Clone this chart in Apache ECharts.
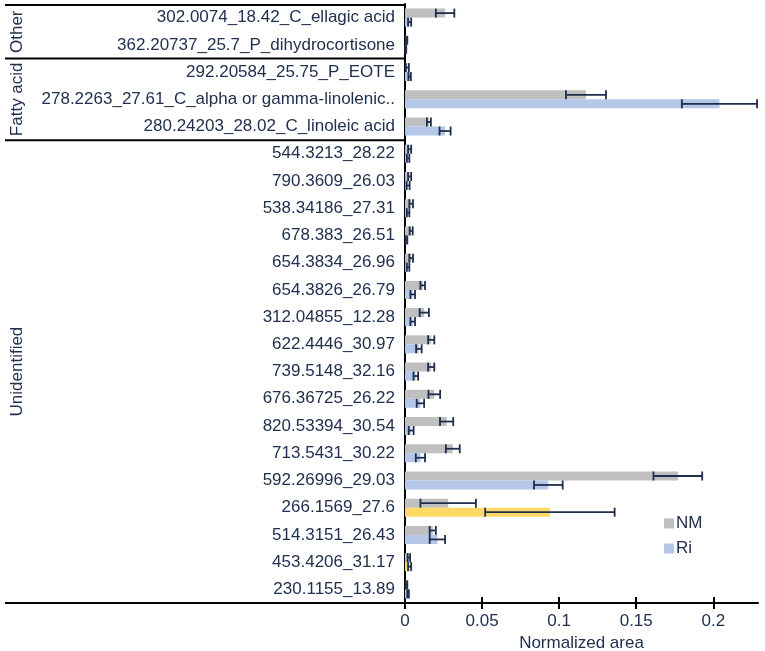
<!DOCTYPE html>
<html>
<head>
<meta charset="utf-8">
<script src="https://cdn.jsdelivr.net/npm/echarts@6/dist/echarts.min.js"></script>
<style>
  html, body { margin: 0; padding: 0; background: #fff; }
  #chart { width: 765px; height: 651px; }
</style>
</head>
<body>
<div id="chart"></div>
<script>
// compounds, top to bottom
const categories = [
    '302.0074_18.42_C_ellagic acid',
    '362.20737_25.7_P_dihydrocortisone',
    '292.20584_25.75_P_EOTE',
    '278.2263_27.61_C_alpha or gamma-linolenic acid',
    '280.24203_28.02_C_linoleic acid',
    '544.3213_28.22',
    '790.3609_26.03',
    '538.34186_27.31',
    '678.383_26.51',
    '654.3834_26.96',
    '654.3826_26.79',
    '312.04855_12.28',
    '622.4446_30.97',
    '739.5148_32.16',
    '676.36725_26.22',
    '820.53394_30.54',
    '713.5431_30.22',
    '592.26996_29.03',
    '266.1569_27.6',
    '514.3151_26.43',
    '453.4206_31.17',
    '230.1155_13.89'
];

const nmMean = [0.026, 0.001, 0.0015, 0.1174, 0.0155, 0.003, 0.003, 0.004, 0.004, 0.004, 0.0115,
    0.0125, 0.017, 0.017, 0.019, 0.027, 0.031, 0.177, 0.028, 0.018, 0.0025, 0.001];
const nmErr = [0.006, 0.0005, 0.001, 0.013, 0.0013, 0.001, 0.001, 0.0012, 0.001, 0.0012, 0.0015,
    0.003, 0.002, 0.002, 0.0038, 0.0043, 0.0045, 0.0158, 0.018, 0.002, 0.0008, 0.0005];

const riMean = [0.003, 0.0005, 0.003, 0.204, 0.026, 0.002, 0.002, 0.002, 0.001, 0.002, 0.005,
    0.005, 0.009, 0.007, 0.010, 0.004, 0.010, 0.093, 0.094, 0.021, 0.003, 0.002];
const riErr = [0.001, 0.0003, 0.0008, 0.0244, 0.0036, 0.0008, 0.001, 0.0008, 0.0005, 0.0008, 0.0015,
    0.0015, 0.0018, 0.0015, 0.0024, 0.0016, 0.003, 0.0093, 0.042, 0.005, 0.001, 0.0005];

// Ri bars drawn in yellow
const riHighlight = ['266.1569_27.6', '453.4206_31.17'];

const groupNames = ['Other', 'Fatty acid', 'Unidentified'];
const groupSizes = [2, 3, 17];

const xTicks = [0, 0.05, 0.1, 0.15, 0.2];

const navy = '#1f2d4d';
const textColor = '#22304f';
const barW = 9;

const chart = echarts.init(document.getElementById('chart'));

function errRender(shift) {
    return function (params, api) {
        const v = api.value(0), c = api.value(1), e = api.value(2);
        const lo = api.coord([v - e, c]);
        const hi = api.coord([v + e, c]);
        const y = lo[1] + shift;
        const h = barW / 2;
        const st = { stroke: navy, lineWidth: 1.8 };
        return {
            type: 'group',
            children: [
                { type: 'line', shape: { x1: lo[0], y1: y, x2: hi[0], y2: y }, style: st },
                { type: 'line', shape: { x1: lo[0], y1: y - h, x2: lo[0], y2: y + h }, style: st },
                { type: 'line', shape: { x1: hi[0], y1: y - h, x2: hi[0], y2: y + h }, style: st }
            ]
        };
    };
}

const riData = riMean.map((v, i) =>
    riHighlight.includes(categories[i]) ? { value: v, itemStyle: { color: '#ffd966' } } : v);

const xAxisBase = {
    type: 'value',
    min: 0,
    max: 0.229,
    splitLine: { show: false }
};

chart.setOption({
    animation: false,
    textStyle: { fontFamily: 'Liberation Sans, Arial, sans-serif' },
    grid: { left: 405, right: 7, top: 4, bottom: 48, containLabel: false, outerBoundsMode: 'none' },
    legend: {
        orient: 'vertical',
        left: 659,
        top: 510,
        itemWidth: 10,
        itemHeight: 10,
        itemGap: 8,
        icon: 'rect',
        data: ['NM', 'Ri'],
        textStyle: { fontSize: 17, color: textColor, padding: [0, 0, 0, -3] }
    },
    xAxis: [
        Object.assign({}, xAxisBase, {
            name: 'Normalized area',
            nameLocation: 'middle',
            nameGap: 27,
            nameTextStyle: { fontSize: 17, color: textColor },
            axisLine: { show: true, lineStyle: { color: '#000', width: 2 } },
            axisTick: { show: true, length: 6, customValues: xTicks, lineStyle: { color: '#000', width: 2 } },
            axisLabel: { fontSize: 17, color: textColor, margin: 10, customValues: xTicks }
        }),
        Object.assign({}, xAxisBase, {
            position: 'bottom',
            axisLine: { show: false },
            axisTick: { show: true, inside: true, length: 6, customValues: xTicks, lineStyle: { color: '#000', width: 2 } },
            axisLabel: { show: false }
        })
    ],
    yAxis: {
        type: 'category',
        inverse: true,
        data: categories,
        axisLine: { show: true, lineStyle: { color: '#000', width: 2 } },
        axisTick: { show: false },
        axisLabel: {
            fontSize: 17,
            color: textColor,
            margin: 10,
            width: 356,
            overflow: 'truncate',
            ellipsis: '..'
        }
    },
    series: [
        {
            name: 'NM', type: 'bar', data: nmMean, barWidth: barW, barGap: 0,
            itemStyle: { color: '#bfbfbf' }
        },
        {
            name: 'Ri', type: 'bar', data: riData, barWidth: barW, barGap: 0,
            itemStyle: { color: '#b4c7e7' }
        },
        {
            type: 'custom', renderItem: errRender(-barW / 2), z: 5,
            encode: { x: 0, y: 1 },
            data: nmMean.map((v, i) => [v, i, nmErr[i]])
        },
        {
            type: 'custom', renderItem: errRender(barW / 2), z: 5,
            encode: { x: 0, y: 1 },
            data: riMean.map((v, i) => [v, i, riErr[i]])
        }
    ]
});

// group brackets on the left, placed from the category axis
function drawGroups() {
    const rect = chart.getModel().getComponent('grid').coordinateSystem.getRect();
    const yOf = i => chart.convertToPixel({ yAxisIndex: 0 }, i);
    const step = yOf(1) - yOf(0);
    const lineStyle = { stroke: '#000', lineWidth: 2 };
    const els = [];
    const top = rect.y + 1;
    const bottom = rect.y + rect.height;
    els.push({ type: 'line', shape: { x1: 5, y1: top, x2: rect.x, y2: top }, style: lineStyle });
    els.push({ type: 'line', shape: { x1: 5, y1: bottom, x2: rect.x, y2: bottom }, style: lineStyle });
    let start = 0;
    groupNames.forEach((g, k) => {
        const end = start + groupSizes[k];
        const y0 = start === 0 ? top : yOf(start) - step / 2;
        const y1 = end === categories.length ? bottom : yOf(end) - step / 2;
        if (end < categories.length) {
            els.push({ type: 'line', shape: { x1: 5, y1: y1, x2: rect.x, y2: y1 }, style: lineStyle });
        }
        els.push({
            type: 'text',
            x: 17,
            y: (y0 + y1) / 2,
            rotation: Math.PI / 2,
            style: {
                text: g, fontSize: 17, fill: textColor,
                fontFamily: 'Liberation Sans, Arial, sans-serif',
                align: 'center', verticalAlign: 'middle'
            }
        });
        start = end;
    });
    chart.setOption({ graphic: els });
}
drawGroups();
</script>
</body>
</html>
